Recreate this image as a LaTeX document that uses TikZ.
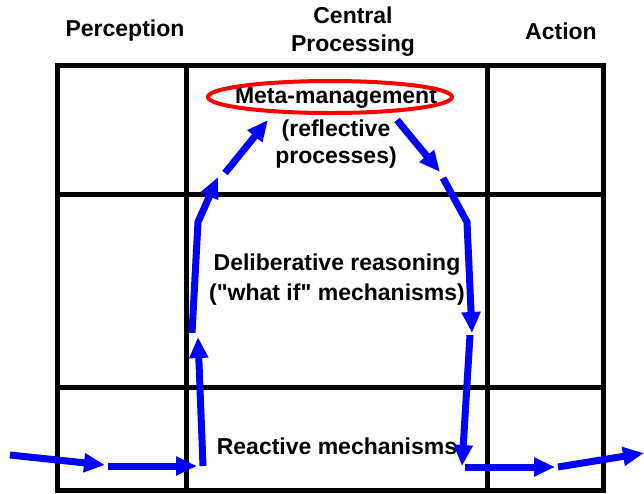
\documentclass[tikz,border=0pt]{standalone}
\usepackage{fontspec}
\setmainfont{Liberation Sans}
\usetikzlibrary{arrows.meta}

\begin{document}
\begin{tikzpicture}[x=1pt,y=-1pt,line width=5pt,>={Triangle[length=21pt,width=18pt]},
  lab/.style={font=\fontsize{23}{28}\selectfont\bfseries,align=center,inner sep=0pt},
  flow/.style={color=blue,line width=7pt,->}]
\useasboundingbox (0,0) rectangle (644,493);
% grid
\foreach \x in {57,186,487,603}{\draw (\x,65) -- (\x,490);};
\foreach \y in {65,194,387,490}{\draw[line cap=rect] (57,\y) -- (603,\y);};
% headings
\node[lab] (perc) at (125,31) {Perception};
\node[lab] (cent) at (353,32) {Central\\Processing};
\node[lab] (act) at (561,31) {Action};
% layers
\node[lab] (meta) at (336,98) {Meta-management};
\draw[color=red,line width=4pt] (330,97) ellipse (122 and 16);
\node[lab,font=\fontsize{23}{27}\selectfont\bfseries] (refl) at (336,144) {(reflective\\processes)};
\node[lab,font=\fontsize{23}{30}\selectfont\bfseries] (delib) at (337,280) {Deliberative reasoning\\(\textquotedbl what if\textquotedbl{} mechanisms)};
\node[lab] (react) at (337,446) {Reactive mechanisms};
% flow points
\foreach \n/\p in {a1/{10,455},a2/{105,465},b1/{108,466},b2/{197,466},c1/{203,466},c2/{198,337},
  d1/{192,333},d2/{198,222},d3/{218,177},e1/{225,173},e2/{268,120},f1/{397,120},f2/{440,172},
  g1/{443,178},g2/{467,222},g3/{472,333},h1/{470,335},h2/{462,466},i1/{465,467},i2/{555,467},
  j1/{558,467},j2/{644,453}}{\coordinate (\n) at (\p);};
\draw[flow] (a1) -- (a2);
\draw[flow] (b1) -- (b2);
\draw[flow] (c1) -- (c2);
\draw[flow] (d1) -- (d2) -- (d3);
\draw[flow] (e1) -- (e2);
\draw[flow] (f1) -- (f2);
\draw[flow] (g1) -- (g2) -- (g3);
\draw[flow] (h1) -- (h2);
\draw[flow] (i1) -- (i2);
\draw[flow] (j1) -- (j2);
\end{tikzpicture}
\end{document}
